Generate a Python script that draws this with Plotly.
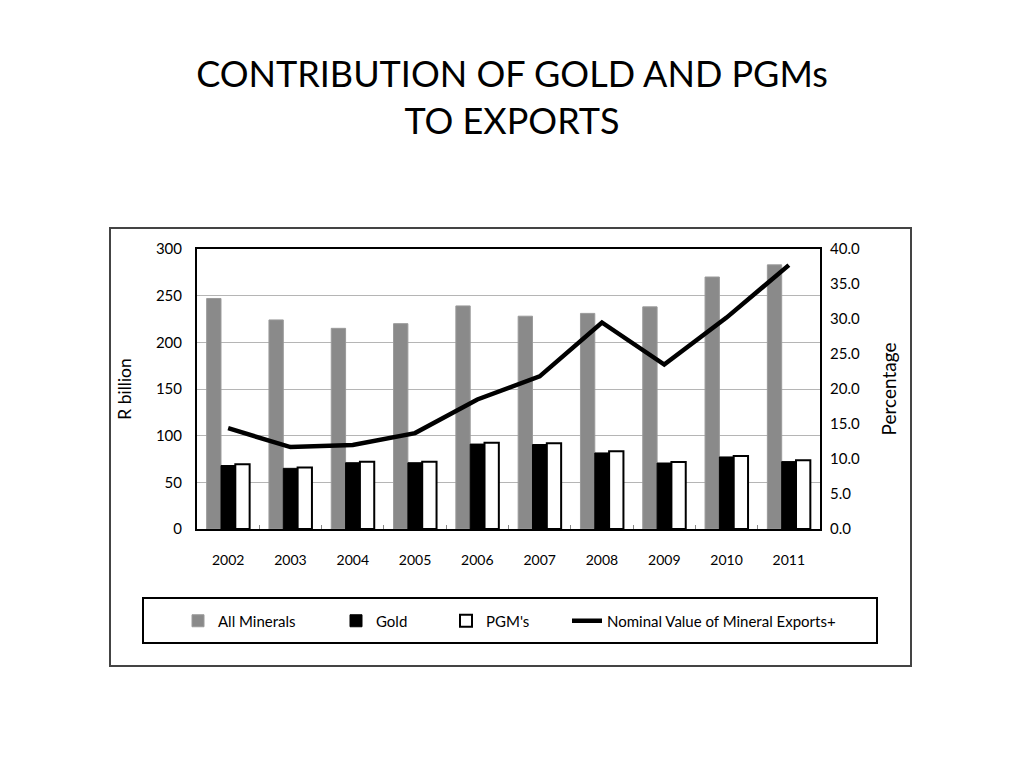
import plotly.graph_objects as go

years = ["2002", "2003", "2004", "2005", "2006", "2007", "2008", "2009", "2010", "2011"]
all_minerals = [247, 224, 215, 220, 239, 228, 231, 238, 270, 283]
gold = [68, 65, 71, 71, 91, 90.5, 81.5, 70.7, 77.2, 72.2]
pgms = [69.5, 66, 72, 72, 92.5, 92, 83.3, 71.8, 78.3, 73.6]
nominal_pct = [14.4, 11.7, 12.0, 13.7, 18.5, 21.8, 29.5, 23.5, 30.2, 37.7]

FONT = "Lato"
OFF = 8  # page body margin

fig = go.Figure()
fig.add_trace(go.Bar(
    x=years, y=all_minerals, name="All Minerals", legend="legend",
    marker=dict(color="#8a8a8a", line=dict(color="#9a9a9a", width=1)),
))
fig.add_trace(go.Bar(
    x=years, y=gold, name="Gold", legend="legend2",
    marker=dict(color="#000000", line=dict(color="#000000", width=1)),
))
fig.add_trace(go.Bar(
    x=years, y=pgms, name="PGM's", legend="legend3",
    marker=dict(color="#ffffff", line=dict(color="#000000", width=2)),
))
fig.add_trace(go.Scatter(
    x=years, y=nominal_pct, name="Nominal Value of Mineral Exports+",
    legend="legend4",
    yaxis="y2", mode="lines", line=dict(color="#000000", width=4.5),
))

# frame geometry in paper coords (plot area 197..820 x, 249..529 y on page)
def px(x):
    return (x - 197) / 623.0

def py(y):
    return (529 - y) / 280.0

fig.add_shape(type="rect", xref="paper", yref="paper",
              x0=px(110), x1=px(911), y0=py(666), y1=py(228),
              line=dict(color="#444444", width=2), layer="below")
fig.add_shape(type="rect", xref="paper", yref="paper",
              x0=px(143), x1=px(877), y0=py(643), y1=py(598),
              line=dict(color="#000000", width=2))

def leg(xpix):
    return dict(orientation="h", x=px(xpix), xanchor="left",
                y=py(621), yanchor="middle",
                font=dict(family=FONT, size=15, color="#000000"),
                bgcolor="rgba(0,0,0,0)", borderwidth=0, itemwidth=30)

fig.update_layout(
    width=1024, height=768,
    margin=dict(l=197 - OFF, r=1024 - 820 + OFF, t=249 - OFF, b=768 - 529 + OFF),
    paper_bgcolor="white", plot_bgcolor="white",
    font=dict(family=FONT, color="#000000", size=14),
    title=dict(text="CONTRIBUTION OF GOLD AND PGMs<br>TO EXPORTS",
               x=(512 - OFF) / 1024, xanchor="center",
               y=1 - (87 - OFF) / 768, yanchor="middle",
               xref="container", yref="container",
               font=dict(family=FONT, size=36, color="#000000")),
    barmode="group", bargap=0.31, bargroupgap=0,
    showlegend=True,
    legend=leg(178),
    legend2=leg(336),
    legend3=leg(446),
    legend4=leg(567),
    xaxis=dict(type="category", showline=True, linecolor="#000000", linewidth=2,
               mirror=True, ticks="inside", tickson="boundaries", ticklen=4,
               tickcolor="#888888", tickfont=dict(size=14), showgrid=False,
               ticklabelstandoff=17),
    yaxis=dict(range=[0, 300], dtick=50, showgrid=True, gridcolor="#b5b5b5",
               gridwidth=1, showline=True, linecolor="#000000", linewidth=2,
               mirror=True, ticks="", tickfont=dict(size=15),
               ticklabelstandoff=10,
               title=dict(text="R billion", font=dict(size=17.5), standoff=20),
               zeroline=False),
    yaxis2=dict(range=[0, 40], dtick=5, overlaying="y", side="right",
                showgrid=False, showline=False, tickformat=".1f",
                tickfont=dict(size=15), ticks="", ticklabelstandoff=9,
                title=dict(text="Percentage", font=dict(size=19), standoff=23),
                zeroline=False),
)

fig.write_html("out.html")
